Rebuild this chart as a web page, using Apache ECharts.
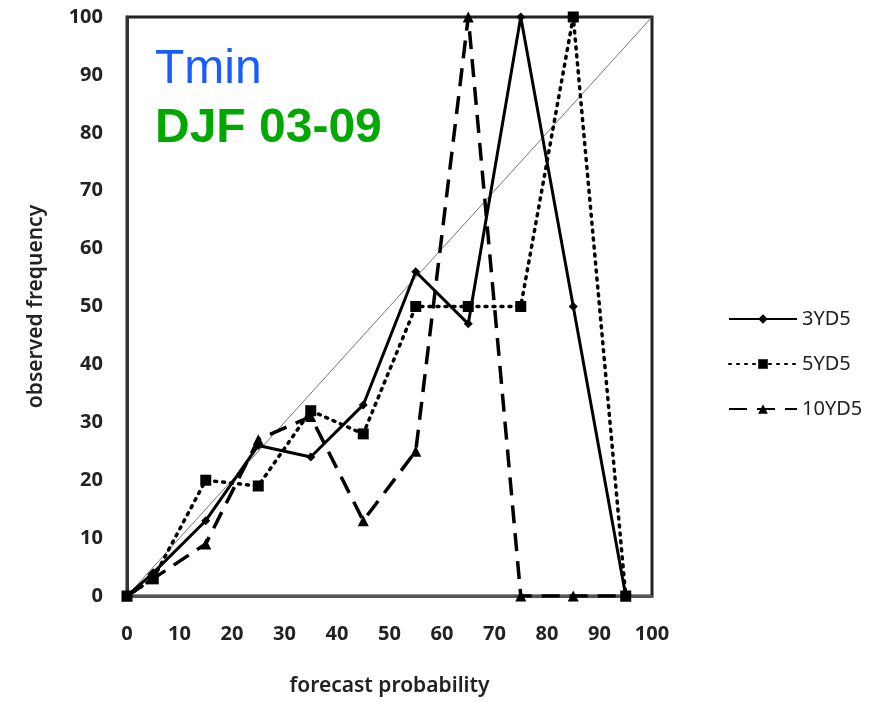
<!DOCTYPE html>
<html><head><meta charset="utf-8">
<script src="https://cdn.jsdelivr.net/npm/echarts@6/dist/echarts.min.js"></script>
<style>html,body{margin:0;padding:0;background:#fff}#c{width:882px;height:702px}</style>
</head><body><div id="c"></div>
<script>
const xVals = [0, 5, 15, 25, 35, 45, 55, 65, 75, 85, 95];
const s3YD5 = [0, 4, 13, 26, 24, 33, 56, 47, 100, 50, 0];
const s5YD5 = [0, 3, 20, 19, 32, 28, 50, 50, 50, 100, 0];
const s10YD5 = [0, 3, 9, 27, 31, 13, 25, 100, 0, 0, 0];
const diag = [[0, 0], [100, 100]];
const seriesNames = ['3YD5', '5YD5', '10YD5'];

const pts = arr => xVals.map((x, i) => [x, arr[i]]);
const font = 'Noto Sans';
const chart = echarts.init(document.getElementById('c'));
chart.setOption({
  animation: false,
  textStyle: { fontFamily: font },
  title: [
    { text: 'Tmin', left: 150, top: 41, textStyle: { color: '#1a5cff', fontSize: 48, fontWeight: 'normal', fontFamily: 'Liberation Sans' } },
    { text: 'DJF 03-09', left: 150, top: 100, textStyle: { color: '#00a800', fontSize: 48, fontWeight: 'bold', fontFamily: 'Liberation Sans' } }
  ],
  grid: { left: 127, top: 17, right: 230, bottom: 104, show: true, borderColor: '#222', borderWidth: 3, containLabel: false },
  legend: {
    orient: 'vertical', left: 723, top: 304, itemWidth: 68, itemHeight: 12, itemGap: 25,
    data: seriesNames,
    textStyle: { fontSize: 20, color: '#222', fontFamily: font }
  },
  xAxis: {
    type: 'value', min: 0, max: 100, interval: 10,
    name: 'forecast probability', nameLocation: 'middle', nameGap: 80,
    nameTextStyle: { fontSize: 21, fontWeight: 600, color: '#222', fontFamily: font },
    axisLine: { show: true, lineStyle: { color: '#555', width: 3 } },
    axisTick: { show: false },
    splitLine: { show: false },
    axisLabel: { margin: 28, fontSize: 20, fontWeight: 'bold', color: '#222', fontFamily: font }
  },
  yAxis: {
    type: 'value', min: 0, max: 100, interval: 10,
    name: 'observed frequency', nameLocation: 'middle', nameGap: 80, nameRotate: 90,
    nameTextStyle: { fontSize: 21, fontWeight: 600, color: '#222', fontFamily: font },
    axisLine: { show: true, lineStyle: { color: '#333', width: 3 } },
    axisTick: { show: false },
    splitLine: { show: false },
    axisLabel: { margin: 24, fontSize: 20, fontWeight: 'bold', color: '#222', fontFamily: font }
  },
  series: [
    { type: 'line', silent: true, data: diag, symbol: 'none', lineStyle: { color: '#777', width: 1 }, z: 1 },
    { name: seriesNames[0], type: 'line', data: pts(s3YD5), symbol: 'diamond', symbolSize: 9,
      itemStyle: { color: '#000' }, lineStyle: { color: '#000', width: 3, type: 'solid' }, z: 4 },
    { name: seriesNames[1], type: 'line', data: pts(s5YD5), symbol: 'rect', symbolSize: 11,
      itemStyle: { color: '#000' }, lineStyle: { color: '#000', width: 3.5, type: [2, 6], cap: 'round' }, z: 3 },
    { name: seriesNames[2], type: 'line', data: pts(s10YD5), symbol: 'triangle', symbolSize: 11,
      itemStyle: { color: '#000' }, lineStyle: { color: '#000', width: 3.5, type: [18, 10] }, z: 2 }
  ]
});
</script>
</body></html>
